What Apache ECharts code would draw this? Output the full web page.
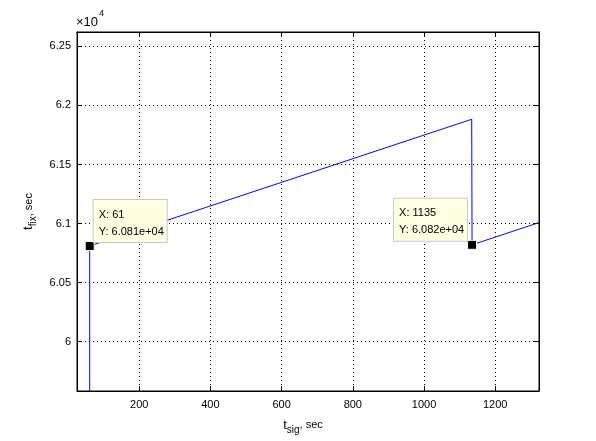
<!DOCTYPE html>
<html>
<head>
<meta charset="utf-8">
<script src="https://cdn.jsdelivr.net/npm/echarts@6/dist/echarts.min.js"></script>
<style>html,body{margin:0;padding:0;background:#fff;}#c{width:596px;height:441px;}</style>
</head>
<body>
<div id="c"></div>
<script>
// Data (t_sig in sec, t_fix in sec)
const tSig = [61, 61, 1134, 1135, 1323];
const tFix = [50000, 60810, 61883, 60820, 61008];
// Data tips
const tipX = [61, 1135];
const tipY = [60810, 60820];
// Axis ranges
const xRange = [25.3, 1323];
const yRange = [59582, 62622];

const FONT = 'Liberation Sans, Arial, sans-serif';

function expo(v) {
  const s = v.toExponential(3);
  const m = s.split('e');
  let e = parseInt(m[1], 10);
  const sign = e < 0 ? '-' : '+';
  e = Math.abs(e);
  return m[0] + 'e' + sign + (e < 10 ? '0' + e : '' + e);
}

const lineData = tSig.map((x, i) => [x, tFix[i]]);
const tipOffsets = [[9, -41], [-73, -41]];
const tipData = tipX.map((x, i) => ({
  value: [x, tipY[i]],
  label: { position: tipOffsets[i] }
}));

const nameRich = {
  t: { fontSize: 13, lineHeight: 20, fontFamily: FONT, color: '#000', verticalAlign: 'middle' },
  s: { fontSize: 10, lineHeight: 8, fontFamily: FONT, color: '#000', verticalAlign: 'bottom' },
  n: { fontSize: 11, lineHeight: 20, fontFamily: FONT, color: '#000', verticalAlign: 'middle' }
};

const chart = echarts.init(document.getElementById('c'), null, { renderer: 'canvas' });
const splitStyle = { show: true, lineStyle: { color: '#000', type: [1, 3], width: 1 } };
const option = {
  animation: false,
  backgroundColor: '#fff',
  grid: { left: 77, right: 57, top: 32, bottom: 50, show: true, borderColor: '#000', borderWidth: 1, backgroundColor: 'transparent' },
  xAxis: [
    {
      type: 'value', min: xRange[0], max: xRange[1], splitNumber: 6, position: 'bottom',
      axisLine: { show: true, lineStyle: { color: '#000' } },
      axisTick: { show: true, inside: true, length: 5, lineStyle: { color: '#000' } },
      axisLabel: { color: '#000', fontSize: 11, fontFamily: FONT, margin: 8, showMinLabel: false, showMaxLabel: false,
        formatter: v => (v % 200 === 0 ? String(v) : '') },
      splitLine: splitStyle,
      name: '{t|t}{s|sig}{n|, sec}', nameLocation: 'middle', nameGap: 24,
      nameTextStyle: { rich: nameRich, padding: [0, 10, 0, 0] }
    },
    {
      type: 'value', min: xRange[0], max: xRange[1], splitNumber: 6, position: 'top',
      axisLine: { show: true, lineStyle: { color: '#000' } },
      axisTick: { show: true, inside: true, length: 5, lineStyle: { color: '#000' } },
      axisLabel: { show: false }, splitLine: { show: false }
    }
  ],
  yAxis: [
    {
      type: 'value', min: yRange[0], max: yRange[1], splitNumber: 6, position: 'left',
      axisLine: { show: true, lineStyle: { color: '#000' } },
      axisTick: { show: true, inside: true, length: 5, lineStyle: { color: '#000' } },
      axisLabel: { color: '#000', fontSize: 11, fontFamily: FONT, margin: 6, showMinLabel: false, showMaxLabel: false,
        formatter: v => (v % 500 === 0 ? String(parseFloat((v / 1e4).toFixed(3))) : '') },
      splitLine: splitStyle,
      name: '{t|t}{s|fix}{n|, sec}', nameLocation: 'middle', nameGap: 31, nameRotate: 90,
      nameTextStyle: { rich: nameRich }
    },
    {
      type: 'value', min: yRange[0], max: yRange[1], splitNumber: 6, position: 'right',
      axisLine: { show: true, lineStyle: { color: '#000' } },
      axisTick: { show: true, inside: true, length: 5, lineStyle: { color: '#000' } },
      axisLabel: { show: false }, splitLine: { show: false }
    }
  ],
  graphic: [
    {
      type: 'text', left: 76, top: 9, z: 100,
      style: {
        text: '{a|×10}{b|4}',
        rich: {
          a: { fontSize: 13, fontFamily: FONT, fill: '#000', lineHeight: 20, verticalAlign: 'bottom' },
          b: { fontSize: 9, fontFamily: FONT, fill: '#000', lineHeight: 10, verticalAlign: 'top', padding: [0, 0, 0, 1] }
        }
      }
    }
  ],
  series: [
    {
      type: 'line', data: lineData, showSymbol: false, symbol: 'none', clip: true,
      lineStyle: { color: '#0000ff', width: 1 }, z: 2
    },
    {
      type: 'scatter', data: tipData, symbol: 'rect', symbolSize: 9, z: 10,
      itemStyle: { color: '#000', borderColor: '#ffffe1', borderWidth: 1, opacity: 1 },
      label: {
        show: true, width: 63,
        formatter: p => 'X: ' + p.value[0] + '\nY: ' + expo(p.value[1]),
        backgroundColor: '#ffffe1', borderColor: '#c8c8c8', borderWidth: 1,
        padding: [6, 5, 2, 5], lineHeight: 17, fontSize: 11, fontFamily: FONT, color: '#000',
        align: 'left', verticalAlign: 'top'
      }
    }
  ]
};
chart.setOption(option);
</script>
</body>
</html>
